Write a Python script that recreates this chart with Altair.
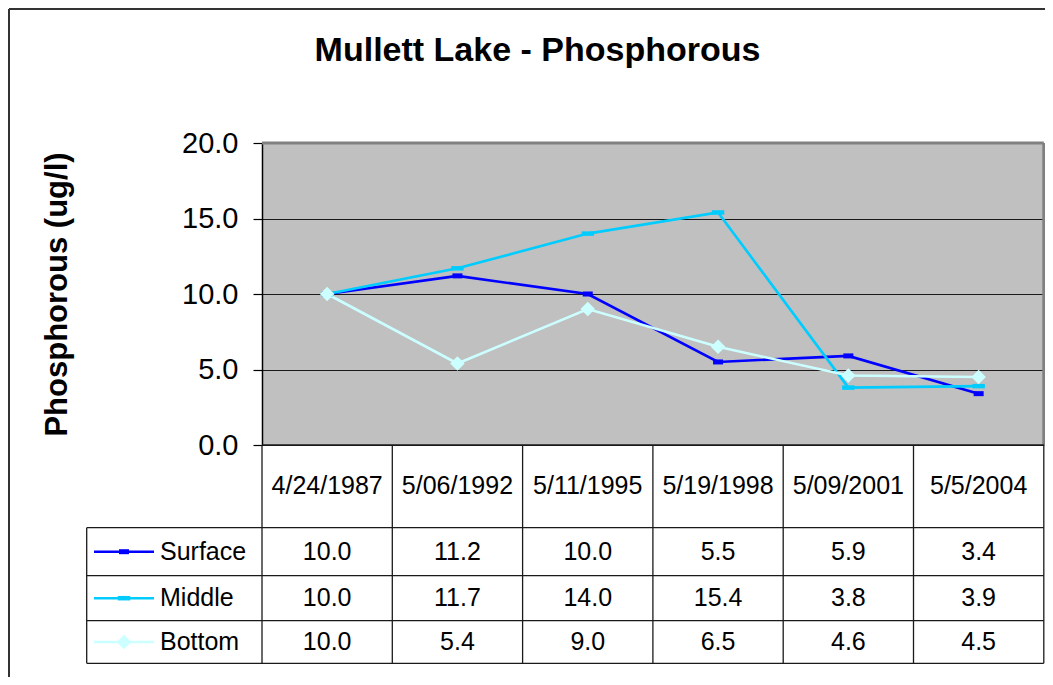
import altair as alt
import pandas as pd

# ---------------- data ----------------
dates = ["4/24/1987", "5/06/1992", "5/11/1995", "5/19/1998", "5/09/2001", "5/5/2004"]
series_names = ["Surface", "Middle", "Bottom"]
surface = [10.0, 11.2, 10.0, 5.5, 5.9, 3.4]
middle = [10.0, 11.7, 14.0, 15.4, 3.8, 3.9]
bottom = [10.0, 5.4, 9.0, 6.5, 4.6, 4.5]
y_ticks = [0, 5, 10, 15, 20]
chart_title = "Mullett Lake - Phosphorous"
y_title = "Phosphorous (ug/l)"

# ---------------- styles / layout ----------------
colors = ["#0000FF", "#00CCFF", "#CCFFFF"]
shapes = ["M-1,-0.5H1V0.5H-1Z", "M-1,-0.36H1V0.36H-1Z", "diamond"]
sizes = [100, 210, 220]
FONT = "Liberation Sans"

PAGE_MARGIN = 8
PLOT_LEFT_PX = 262.0      # page x of plot left
PLOT_TOP_PX = 143.0
PLOT_BOTTOM_PX = 445.0
N_COLS = len(dates)
COL_W = 130.3
PLOT_W = COL_W * N_COLS
PLOT_H = PLOT_BOTTOM_PX - PLOT_TOP_PX
UNIT_PX = PLOT_H / 20.0
SVG_W, SVG_H = 1037, 669

TABLE_LEFT_PX = 86.7
ROW_EDGES_PX = [PLOT_BOTTOM_PX, 527.7, 575.7, 620.7, 663.3]
LEG_LINE_PX = (94.0, 154.0)
LEG_TEXT_PX = 160.0
TITLE_X_PX, TITLE_BASE_PX = 537.5, 61.0


def ux(px):
    return (px - PLOT_LEFT_PX) / COL_W


def vy(px):
    return (PLOT_BOTTOM_PX - px) / UNIT_PX


xs = alt.Scale(domain=[0, N_COLS], nice=False, zero=False)
ys = alt.Scale(domain=[0, 20], nice=False, zero=False)
cs = alt.Scale(domain=series_names, range=colors)
ss = alt.Scale(domain=series_names, range=shapes)
zs = alt.Scale(domain=series_names, range=sizes)

YAX = alt.Axis(
    values=y_ticks, format=".1f", domain=True, domainColor="black", domainWidth=1.5,
    ticks=True, tickColor="black", tickSize=9, tickWidth=1.2,
    grid=True, gridColor="#1a1a1a", gridWidth=1.2,
    labelFont=FONT, labelFontSize=29, labelColor="black", labelPadding=15,
    title=y_title, titleFont=FONT, titleFontSize=31, titleFontWeight="bold",
    titleColor="black", titlePadding=108)

# ---------------- tables ----------------
vals = {"Surface": surface, "Middle": middle, "Bottom": bottom}
rows = []
for s in series_names:
    for i, v in enumerate(vals[s]):
        rows.append({"series": s, "u": i + 0.5, "value": v})
df = pd.DataFrame(rows)

row_centers = [(ROW_EDGES_PX[k] + ROW_EDGES_PX[k + 1]) / 2 for k in range(len(ROW_EDGES_PX) - 1)]
hdr = pd.DataFrame({"u": [i + 0.5 for i in range(N_COLS)], "v": [vy(row_centers[0])] * N_COLS, "label": dates})
cells = []
for k, s in enumerate(series_names):
    for i, v in enumerate(vals[s]):
        cells.append({"u": i + 0.5, "v": vy(row_centers[k + 1]), "label": f"{v:.1f}"})
cells = pd.DataFrame(cells)
leg = pd.DataFrame({
    "series": series_names,
    "u0": [ux(LEG_LINE_PX[0])] * 3,
    "u1": [ux(LEG_LINE_PX[1])] * 3,
    "um": [ux((LEG_LINE_PX[0] + LEG_LINE_PX[1]) / 2)] * 3,
    "ut": [ux(LEG_TEXT_PX)] * 3,
    "v": [vy(c) for c in row_centers[1:]],
})
title_df = pd.DataFrame({"u": [ux(TITLE_X_PX)], "v": [vy(TITLE_BASE_PX)], "label": [chart_title]})

segs = []
y_bot = vy(ROW_EDGES_PX[-1])
segs.append({"x": 0, "x2": N_COLS, "y": 0, "y2": 0})
for e in ROW_EDGES_PX[1:]:
    segs.append({"x": ux(TABLE_LEFT_PX), "x2": N_COLS, "y": vy(e), "y2": vy(e)})
for i in range(N_COLS + 1):
    segs.append({"x": i, "x2": i, "y": 0, "y2": y_bot})
segs.append({"x": ux(TABLE_LEFT_PX), "x2": ux(TABLE_LEFT_PX), "y": vy(ROW_EDGES_PX[1]), "y2": y_bot})
segs = pd.DataFrame(segs)

frame = pd.DataFrame([
    {"x": 0, "x2": N_COLS, "y": 20, "y2": 20},
    {"x": N_COLS, "x2": N_COLS, "y": 0, "y2": 20},
])

svg_left_u = ux(PAGE_MARGIN + 1)
svg_right_u = ux(PAGE_MARGIN + SVG_W)
svg_top_v = vy(PAGE_MARGIN + 1)
svg_bot_v = vy(PAGE_MARGIN + SVG_H)
outer = pd.DataFrame([
    {"x": svg_left_u, "x2": svg_right_u, "y": svg_top_v, "y2": svg_top_v},
    {"x": svg_left_u, "x2": svg_left_u, "y": svg_top_v, "y2": svg_bot_v},
])


def X(f):
    return alt.X(f, scale=xs, axis=None)


def Y(f):
    return alt.Y(f, scale=ys, axis=YAX)


lines = alt.Chart(df).mark_line(strokeWidth=2.6).encode(
    x=X("u:Q"), y=Y("value:Q"),
    color=alt.Color("series:N", scale=cs, legend=None),
)

points = alt.Chart(df).mark_point(filled=True, opacity=1, strokeWidth=0).encode(
    x=X("u:Q"), y=Y("value:Q"),
    color=alt.Color("series:N", scale=cs, legend=None),
    shape=alt.Shape("series:N", scale=ss, legend=None),
    size=alt.Size("series:N", scale=zs, legend=None),
)

frame_l = alt.Chart(frame).mark_rule(color="#808080", strokeWidth=3).encode(
    x=X("x:Q"), x2="x2:Q", y=Y("y:Q"), y2="y2:Q")

table_l = alt.Chart(segs).mark_rule(color="#1a1a1a", strokeWidth=1.3).encode(
    x=X("x:Q"), x2="x2:Q", y=Y("y:Q"), y2="y2:Q")

outer_l = alt.Chart(outer).mark_rule(color="#333333", strokeWidth=2).encode(
    x=X("x:Q"), x2="x2:Q", y=Y("y:Q"), y2="y2:Q")

txt = dict(font=FONT, fontSize=25, color="black", baseline="middle")
hdr_l = alt.Chart(hdr).mark_text(align="center", **txt).encode(x=X("u:Q"), y=Y("v:Q"), text="label:N")
cell_l = alt.Chart(cells).mark_text(align="center", **txt).encode(x=X("u:Q"), y=Y("v:Q"), text="label:N")
leg_text = alt.Chart(leg).mark_text(align="left", **txt).encode(x=X("ut:Q"), y=Y("v:Q"), text="series:N")
leg_line = alt.Chart(leg).mark_rule(strokeWidth=2.6).encode(
    x=X("u0:Q"), x2="u1:Q", y=Y("v:Q"),
    color=alt.Color("series:N", scale=cs, legend=None))
leg_pt = alt.Chart(leg).mark_point(filled=True, opacity=1, strokeWidth=0).encode(
    x=X("um:Q"), y=Y("v:Q"),
    color=alt.Color("series:N", scale=cs, legend=None),
    shape=alt.Shape("series:N", scale=ss, legend=None),
    size=alt.Size("series:N", scale=zs, legend=None))
title_l = alt.Chart(title_df).mark_text(
    align="center", baseline="alphabetic", font=FONT, fontSize=34, fontWeight="bold", color="black"
).encode(x=X("u:Q"), y=Y("v:Q"), text="label:N")

pad_left = PLOT_LEFT_PX - PAGE_MARGIN
pad_top = PLOT_TOP_PX - PAGE_MARGIN
chart = alt.layer(
    lines, frame_l, table_l, outer_l, points, hdr_l, cell_l, leg_line, leg_pt, leg_text, title_l
).properties(
    width=PLOT_W, height=PLOT_H,
    autosize=alt.AutoSizeParams(type="none"),
    padding={"left": pad_left, "top": pad_top,
             "right": SVG_W - pad_left - PLOT_W, "bottom": SVG_H - pad_top - PLOT_H},
    background="white",
).configure_view(fill="#C0C0C0", stroke=None)

chart.save("out.html", embed_options={"renderer": "svg", "actions": False})
